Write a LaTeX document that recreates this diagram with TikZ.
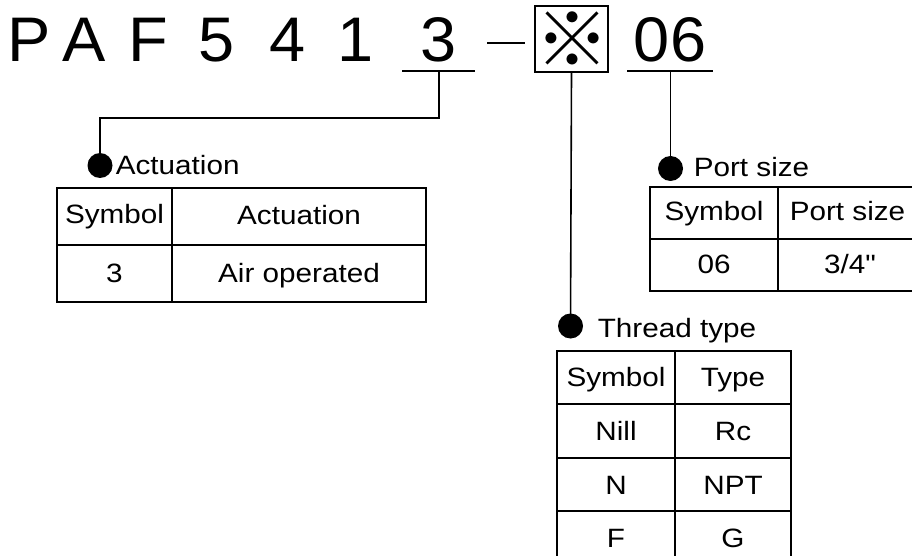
\documentclass[tikz,border=0pt]{standalone}
\usepackage{fontspec}
\setmainfont{Liberation Sans}[FakeStretch=1.12, Ligatures=TeXOff]
\newfontfamily\hdrfont{Liberation Sans}[FakeStretch=1.03]
\newfontfamily\cjkfont{Noto Sans CJK JP}
\begin{document}
\begin{tikzpicture}[x=1pt,y=-1pt, line width=1.6pt,
  hdr/.style={anchor=base, inner sep=0pt, font=\hdrfont\fontsize{63}{70}\selectfont},
  txt/.style={anchor=base, inner sep=0pt, font=\fontsize{26.5}{30}\selectfont},
  headtxt/.style={anchor=base west, inner sep=0pt, font=\fontsize{26.5}{30}\selectfont},
  dotmark/.style={circle, fill=black, inner sep=0pt, minimum size=25pt},
  refbox/.style={draw, line width=1.6pt, minimum width=73pt, minimum height=66pt, inner sep=0pt},
  tbl/.style={line width=1.6pt},
]
\useasboundingbox (0,0) rectangle (912,556);
\clip (0,0) rectangle (912,556);
% header
\node[hdr] (hP) at (29.5,62) {P};
\node[hdr] (hA) at (84.5,62) {A};
\node[hdr] (hF) at (148.5,62) {F};
\node[hdr] (h5) at (216.5,62) {5};
\node[hdr] (h4) at (287.5,62) {4};
\node[hdr] (h1) at (356,62) {1};
\node[hdr] (h3) at (438.5,62) {3};
\node[hdr] (h06) at (670,62) {06};
\coordinate (d1) at (487,43);
\coordinate (d2) at (525,43);
\draw (d1) -- (d2);
\node[refbox] (box) at (571.5,39) {};
\node[inner sep=0pt, font=\cjkfont\fontsize{74}{76}\selectfont] (ref) at (572,39) {※};
% underlines
\coordinate (u3a) at (402,71);
\coordinate (u3b) at (475,71);
\draw (u3a) -- (u3b);
\coordinate (u6a) at (627,71);
\coordinate (u6b) at (713,71);
\draw (u6a) -- (u6b);
\coordinate (u3) at (439,71);
\coordinate (u6) at (670.5,71);
% dots and headings
\node[dotmark] (dA) at (100,165.5) {};
\node[headtxt] (tA) at (115,175) {Actuation};
\node[dotmark] (dP) at (670.5,168.5) {};
\node[headtxt] (tP) at (693,176) {Port size};
\node[dotmark] (dT) at (570.5,326) {};
\node[headtxt] (tT) at (597,337) {Thread type};
% connectors
\coordinate (bendA) at (100,118);
\draw (u3) |- (bendA) -- (dA.center);
\draw (box.south) -- (dT.center);
\draw (u6) -- (dP.center);
% table 1
\draw[tbl] (57,188) rectangle (426,302);
\draw[tbl] (57,245) -- (426,245);
\draw[tbl] (172,188) -- (172,302);
\node[txt] (a11) at (114.5,223) {Symbol};
\node[txt] (a12) at (299,224) {Actuation};
\node[txt] (a21) at (114.5,282) {3};
\node[txt] (a22) at (299,282) {Air operated};
% table 2
\draw[tbl] (650,187) rectangle (917,291);
\draw[tbl] (650,239) -- (917,239);
\draw[tbl] (778,187) -- (778,291);
\node[txt] (p11) at (714,220) {Symbol};
\node[txt] (p12) at (847.5,220) {Port size};
\node[txt] (p21) at (714,273) {06};
\node[txt] (p22) at (850,273) {3/4"};
% table 3
\draw[tbl] (557,351) rectangle (791,564);
\draw[tbl] (557,404) -- (791,404);
\draw[tbl] (557,458) -- (791,458);
\draw[tbl] (557,511) -- (791,511);
\draw[tbl] (675,351) -- (675,564);
\node[txt] (t11) at (616,386.5) {Symbol};
\node[txt] (t12) at (733,386.5) {Type};
\node[txt] (t21) at (616,440) {Nill};
\node[txt] (t22) at (733,440) {Rc};
\node[txt] (t31) at (616,494) {N};
\node[txt] (t32) at (733,494) {NPT};
\node[txt] (t41) at (616,547) {F};
\node[txt] (t42) at (733,547) {G};
\end{tikzpicture}
\end{document}
